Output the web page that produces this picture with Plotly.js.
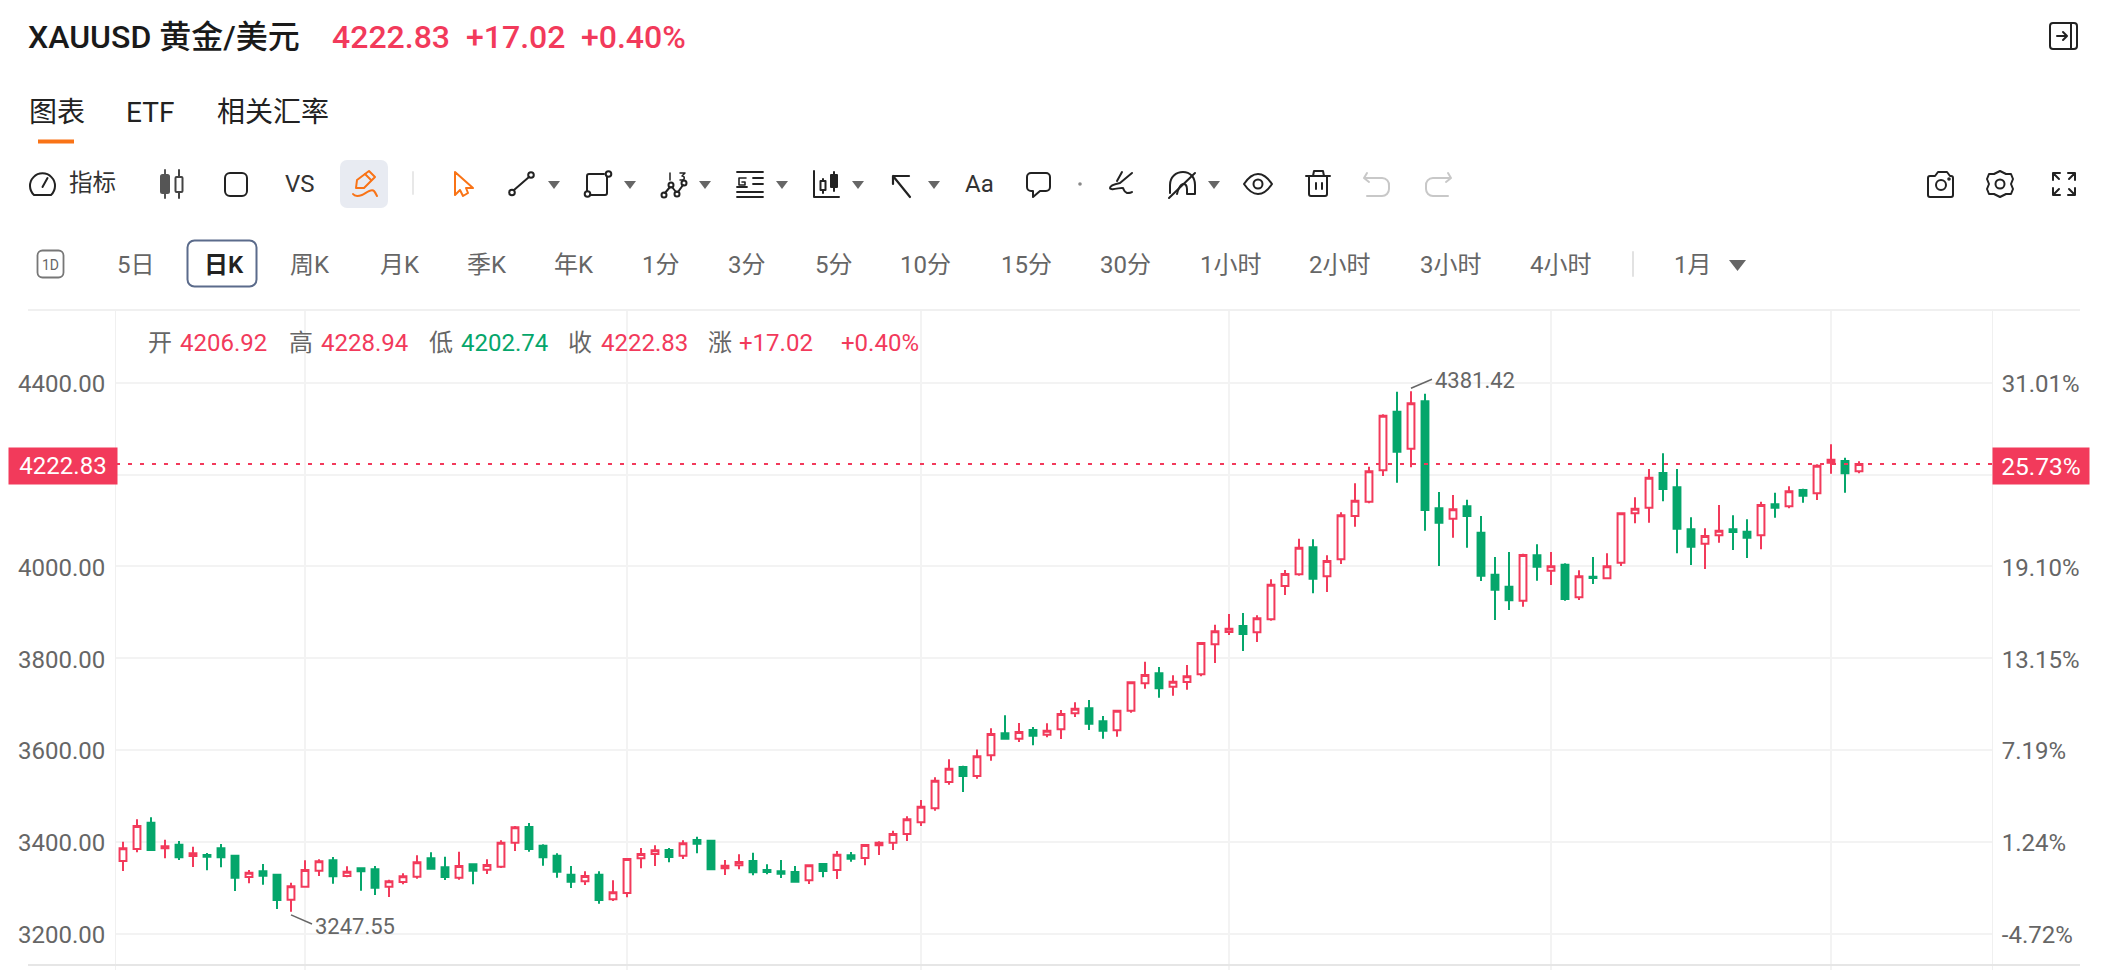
<!DOCTYPE html>
<html>
<head>
<meta charset="utf-8">
<script src="https://cdn.plot.ly/plotly-3.0.1.min.js"></script>
<style>
html,body{margin:0;padding:0;background:#fff;width:2108px;height:970px;overflow:hidden}
#chart{position:absolute;left:0;top:0;width:2108px;height:970px}
#ui{position:absolute;left:0;top:0;width:2108px;height:300px;pointer-events:none}
#ui svg{position:absolute;left:0;top:0}
.t{position:absolute;white-space:nowrap;line-height:1;transform:translateY(-50%);font-family:Roboto,"Noto Sans CJK SC",sans-serif}
</style>
</head>
<body>
<div id="chart"></div>
<div id="ui"></div>
<script>
// ---------- data (prices) ----------
const open = [3358.3,3384.5,3441.8,3385.9,3393.9,3369.2,3371.4,3385.9,3369.9,3323.5,3335.8,3328.6,3274.1,3302.4,3337.3,3359.8,3325.7,3342.4,3340.2,3302.4,3312.6,3324.2,3364.1,3344.5,3322.0,3351.1,3339.5,3346.0,3398.3,3432.4,3391.7,3369.9,3328.6,3314.0,3328.6,3274.8,3288.6,3364.1,3373.6,3382.3,3369.9,3404.1,3402.6,3342.4,3348.9,3358.3,3338.7,3335.8,3334.4,3316.2,3351.8,3338.7,3370.7,3364.9,3392.4,3398.3,3417.1,3442.5,3473.0,3530.3,3563.0,3543.4,3588.4,3636.3,3624.7,3643.5,3633.4,3645.0,3679.8,3690.7,3662.4,3642.8,3685.6,3745.2,3767.0,3737.9,3748.1,3764.8,3830.1,3857.0,3870.1,3856.3,3884.6,3957.2,3982.6,4041.4,3978.2,4015.2,4109.6,4140.8,4209.0,4336.8,4256.2,4359.3,4126.3,4103.8,4130.6,4073.3,3981.8,3955.7,3925.2,4023.9,3990.5,4003.6,3932.5,3977.5,3973.8,4007.9,4115.4,4127.8,4203.3,4172.0,4080.6,4049.4,4067.5,4080.6,4075.5,4067.5,4135.0,4130.7,4166.2,4159.0,4225.8,4229.4,4206.92];
const high = [3400.4,3449.1,3453.4,3404.8,3401.9,3389.5,3375.7,3395.4,3371.0,3338.7,3351.8,3329.5,3311.1,3359.8,3362.0,3367.0,3346.7,3343.8,3347.4,3317.7,3331.5,3370.7,3377.2,3367.8,3378.6,3353.2,3362.0,3403.3,3434.5,3441.1,3394.6,3375.0,3347.4,3335.8,3335.8,3316.2,3364.1,3386.6,3392.4,3386.6,3403.3,3411.3,3404.1,3360.5,3372.8,3376.5,3351.1,3360.5,3347.4,3351.1,3353.2,3380.1,3377.9,3394.6,3401.2,3424.4,3455.6,3491.2,3540.5,3579.7,3565.9,3601.4,3647.2,3675.5,3658.8,3650.1,3658.1,3687.1,3703.8,3708.9,3674.0,3687.1,3749.5,3792.4,3780.7,3762.6,3785.1,3834.5,3872.9,3896.2,3898.4,3893.3,3971.7,3992.0,4060.2,4058.8,4023.9,4117.6,4180.7,4217.0,4331.0,4380.3,4381.42,4376.0,4161.8,4155.3,4145.2,4109.6,4020.3,4031.2,4027.5,4047.9,4031.2,4006.5,3991.3,4020.3,4028.3,4116.8,4150.2,4212.0,4246.1,4212.0,4106.7,4082.8,4133.6,4111.1,4102.4,4140.8,4160.4,4174.2,4169.1,4222.1,4265.7,4236.6,4228.94];
const low = [3336.5,3377.2,3380.8,3364.1,3360.5,3345.3,3338.0,3344.5,3293.0,3309.7,3306.8,3253.8,3247.55,3301.0,3325.7,3309.0,3322.8,3293.7,3284.3,3279.9,3307.5,3319.9,3339.5,3317.0,3317.7,3307.5,3330.0,3343.1,3380.1,3378.7,3348.2,3322.0,3299.5,3306.1,3265.4,3271.2,3279.2,3342.4,3347.4,3355.4,3362.7,3375.0,3338.7,3327.8,3340.2,3327.1,3329.3,3321.3,3312.6,3308.2,3322.8,3319.1,3356.9,3348.9,3371.4,3382.3,3401.9,3434.5,3467.9,3524.5,3508.5,3537.6,3576.8,3624.7,3617.4,3610.2,3627.6,3623.9,3671.9,3643.5,3624.7,3629.0,3681.3,3733.6,3714.0,3718.3,3731.4,3760.4,3789.4,3850.5,3815.6,3835.2,3881.7,3937.6,3979.7,3941.2,3944.1,4005.1,4086.4,4137.2,4196.7,4182.2,4215.6,4077.6,4000.7,4062.4,4040.6,3968.0,3883.1,3904.9,3912.1,3968.8,3959.3,3925.2,3926.6,3961.5,3972.4,4000.7,4093.6,4095.1,4141.6,4028.3,4002.9,3994.2,4051.5,4035.6,4018.2,4037.0,4106.0,4126.3,4138.7,4144.5,4201.8,4160.4,4202.74];
const close = [3385.9,3434.5,3382.3,3390.3,3366.3,3375.0,3367.8,3366.3,3322.0,3332.9,3326.4,3273.4,3303.2,3338.7,3357.6,3324.9,3335.1,3335.8,3300.3,3314.0,3324.9,3355.4,3341.6,3323.5,3347.4,3337.3,3349.6,3398.3,3431.6,3384.5,3366.3,3335.1,3313.3,3325.7,3273.4,3290.1,3362.7,3373.6,3381.6,3367.0,3396.8,3396.1,3340.2,3348.2,3356.1,3333.6,3334.4,3330.7,3313.3,3348.9,3336.5,3372.1,3363.4,3393.2,3398.3,3417.1,3449.1,3476.6,3533.2,3559.3,3543.4,3586.2,3634.8,3624.7,3639.2,3631.2,3642.1,3678.4,3690.0,3657.3,3642.1,3685.6,3747.4,3763.3,3734.3,3748.8,3760.4,3833.0,3858.4,3864.2,3852.6,3886.7,3960.1,3983.3,4040.6,3973.1,4011.6,4111.1,4143.0,4206.9,4328.1,4249.7,4354.9,4122.6,4095.1,4124.1,4109.6,3979.6,3949.2,3925.9,4024.6,3999.2,4000.0,3928.8,3978.2,3974.6,4000.0,4115.4,4125.5,4193.1,4168.4,4082.0,4042.8,4066.1,4077.7,4074.8,4062.4,4133.6,4127.8,4163.3,4153.9,4219.2,4232.3,4202.5,4222.83];
const lastPrice = 4222.83;
const highPoint = {index:92, value:"4381.42"};
const lowPoint = {index:12, value:"3247.55"};
const priceTicks = [3200,3400,3600,3800,4000,4200,4400];
const priceLabels = ["3200.00","3400.00","3600.00","3800.00","4000.00","4200.00","4400.00"];
const pctLabels = ["-4.72%","1.24%","7.19%","13.15%","19.10%","25.06%","31.01%"];
const dateTicks = [13,36,57,79,102,122];
const infoRow = [["开","#666"],["4206.92","#f23a5b"],["高","#666"],["4228.94","#f23a5b"],["低","#666"],["4202.74","#05a66b"],["收","#666"],["4222.83","#f23a5b"],["涨","#666"],["+17.02","#f23a5b"],["+0.40%","#f23a5b"]];
const infoX = [148,180,289,321,429,461,568,601,708,739,841];
const timeframes = [["5日",117],["周K",290],["月K",380],["季K",467],["年K",554],["1分",642],["3分",728],["5分",815],["10分",900],["15分",1001],["30分",1100],["1小时",1200],["2小时",1309],["3小时",1420],["4小时",1530],["1月",1674]];

// ---------- plot geometry ----------
const W=2108,H=970,L=116,R=116,T=309,B=0;
const pw=W-L-R, ph=H-T-B;
const RED="#f23a5b", GREEN="#05a66b", GREY="#666666";
const FONT='Roboto,"Noto Sans CJK SC",sans-serif';
const xRange=[-0.5,133.5], yRange=[3120.95,4560.4];
const px=x=>(x-L)/pw, py=y=>(H-B-y)/ph;
const idx=open.map((_,i)=>i);

const traces=[{
  type:"candlestick",x:idx,open:open,high:high,low:low,close:close,
  increasing:{line:{color:RED,width:2},fillcolor:"#ffffff"},
  decreasing:{line:{color:GREEN,width:2},fillcolor:GREEN},
  whiskerwidth:0,hoverinfo:"none",showlegend:false
},{
  type:"scatter",mode:"lines",x:xRange,y:[lastPrice,lastPrice],yaxis:"y2",
  line:{color:RED,width:2,dash:"4px,8px"},hoverinfo:"none",showlegend:false
}];

const annotations=[
  {xref:"paper",yref:"y",x:0,y:lastPrice,xanchor:"right",yanchor:"middle",xshift:2,yshift:-2,text:"4222.83",showarrow:false,bgcolor:RED,width:100,height:28,borderpad:4,align:"center",font:{family:FONT,size:24,color:"#fff"}},
  {xref:"paper",yref:"y",x:1,y:lastPrice,xanchor:"left",yanchor:"middle",yshift:-2,text:"25.73%",showarrow:false,bgcolor:RED,width:88,height:28,borderpad:4,align:"center",font:{family:FONT,size:24.5,color:"#fff"}},
  {xref:"x",yref:"y",x:highPoint.index+1.6,y:4405,xanchor:"left",yanchor:"middle",text:highPoint.value,showarrow:false,font:{family:FONT,size:22,color:GREY}},
  {xref:"x",yref:"y",x:lowPoint.index+1.55,y:3216,xanchor:"left",yanchor:"middle",text:lowPoint.value,showarrow:false,font:{family:FONT,size:22,color:GREY}}
];
infoRow.forEach((r,i)=>annotations.push({xref:"paper",yref:"paper",x:px(infoX[i]),y:py(343),xanchor:"left",yanchor:"middle",text:r[0],showarrow:false,font:{family:FONT,size:24,color:r[1]},xshift:-2}));

const shapes=[
  {type:"line",xref:"paper",yref:"paper",x0:px(28),x1:px(2080),y0:py(310),y1:py(310),line:{color:"#f0f0f0",width:2}},
  {type:"line",xref:"paper",yref:"paper",x0:px(28),x1:px(2080),y0:py(965),y1:py(965),line:{color:"#e6e6e6",width:2}},
  {type:"line",xref:"x",yref:"y",x0:highPoint.index,x1:highPoint.index+1.5,y0:4387.7,y1:4407.3,line:{color:GREY,width:1.5}},
  {type:"line",xref:"x",yref:"y",x0:lowPoint.index,x1:lowPoint.index+1.5,y0:3240.9,y1:3221,line:{color:GREY,width:1.5}}
];

const yCommon={range:yRange,tickmode:"array",tickvals:priceTicks,showline:true,linecolor:"#f0f0f0",linewidth:1,zeroline:false,ticks:"outside",tickcolor:"rgba(0,0,0,0)",tickfont:{family:FONT,size:24,color:GREY},ticklabelshift:1,fixedrange:true};
const layout={
  width:W,height:H,margin:{l:L,r:R,t:T,b:B,pad:0},paper_bgcolor:"#fff",plot_bgcolor:"#fff",dragmode:false,hovermode:false,showlegend:false,
  xaxis:{type:"linear",range:xRange,tickmode:"array",tickvals:dateTicks,showticklabels:false,ticks:"",showgrid:true,gridcolor:"#f3f3f3",gridwidth:2,zeroline:false,showline:false,rangeslider:{visible:false},fixedrange:true},
  yaxis:Object.assign({},yCommon,{ticktext:priceLabels,ticklen:5,showgrid:true,gridcolor:"#f3f3f3",gridwidth:2,side:"left"}),
  yaxis2:Object.assign({},yCommon,{ticktext:pctLabels,ticklen:4,overlaying:"y",side:"right",showgrid:false}),
  annotations:annotations,shapes:shapes
};
Plotly.newPlot("chart",traces,layout,{displayModeBar:false,staticPlot:true,responsive:false});

// ---------- page chrome around the chart ----------
const ui=document.getElementById("ui");
function label(text,x,y,size,color,weight){
  const d=document.createElement("div");d.className="t";d.textContent=text;
  d.style.cssText=`left:${x}px;top:${y}px;font-size:${size}px;color:${color};font-weight:${weight||400}`;
  ui.appendChild(d);
}
label("XAUUSD 黄金/美元",28,37,32,"#1a1a1a",500);
label("4222.83",332,37,32,RED,500);
label("+17.02",466,37,32,RED,500);
label("+0.40%",581,37,32,RED,500);
label("图表",29,113,28,"#222");
label("ETF",126,113,28,"#222");
label("相关汇率",217,113,28,"#222");
label("指标",69,184,23.500,"#333");
label("VS",285,184,24,"#333");
label("Aa",965,184,24,"#333");
label("日K",204,265,24,"#222",600);
timeframes.forEach(t=>label(t[0],t[1],265,24,"#666"));

const carets=[554,630,705,782,858,934,1214].map(x=>`<path d="M${x-6} 181 h12 l-6 8 z" fill="#666" stroke="none"/>`).join("")+`<path d="M1729 260 h17 l-8.5 11 z" fill="#666" stroke="none"/>`;
const icons=`
<svg width="2108" height="300" fill="none" stroke="#222" stroke-width="2" stroke-linecap="round" stroke-linejoin="round">
<rect x="38" y="139.500" width="36" height="4" fill="#f97316" stroke="none"/>
<!-- panel -->
<rect x="2050" y="23" width="27" height="26" rx="3"/><path d="M2071 23v26M2057 36h9M2063 32l4 4-4 4"/>
<!-- gauge -->
<path d="M34 195a12.500 12.500 0 1 1 17 0h-17z"/><path d="M42.500 187l5-9"/>
<!-- candles -->
<path d="M165 170v28" stroke="#555"/><rect x="161" y="175" width="8" height="18" rx="1.500" fill="#555" stroke="#555"/>
<path d="M179 170v28" stroke="#444"/><rect x="175.500" y="177" width="7" height="15" rx="1" fill="#fff" stroke="#444"/>
<rect x="225" y="173" width="22" height="23" rx="5"/>
<!-- pencil box -->
<rect x="340" y="160" width="48" height="48" rx="7" fill="#e8ebf2" stroke="none"/>
<g stroke="#f97316"><path d="M356 188l1-8 12-9 6 6-11 11z"/><path d="M365 174l6 6"/><path d="M353 194c2 3 6 2 9 1s9-7 12-4c1 1 2 3 3 5"/></g>
<path d="M413 172v22" stroke="#e8e8e8"/>
<!-- cursor -->
<path d="M455 172l18 16h-7l2 5-5 3-3-6-5 5z" stroke="#f97316"/>
<!-- line -->
<circle cx="512" cy="192.500" r="2.800"/><circle cx="531" cy="175" r="2.800"/><path d="M514 190l15-13"/>
<!-- rect -->
<path d="M607 177v16a2 2 0 0 1-2 2h-15M587 191v-15a2 2 0 0 1 2-2h15"/><circle cx="608.500" cy="174" r="2.800"/><circle cx="587.500" cy="194" r="2.800"/>
<!-- zigzag -->
<circle cx="664" cy="195" r="2.500"/><circle cx="671" cy="185" r="2.500"/><circle cx="677" cy="194" r="2.500"/><circle cx="684" cy="183" r="2.500"/><path d="M665 193l5-6M672 187l4 5M678 192l5-7"/><path d="M670 173v7M680 173h5l-3 3c3 0 3 4 0 4h-2" stroke-width="1.500"/>
<!-- list -->
<path d="M737 172h26M737 197h26M737 192h26M753 178h10M753 184h10M737 187h10" stroke-width="1.800"/><path d="M746 178h-7v7h6v-3h-3" stroke-width="1.600"/>
<!-- candles tool -->
<path d="M814 171v26h25"/><path d="M823 179v14M834 172v19"/><rect x="820.500" y="181" width="5" height="9" fill="#fff"/><rect x="831" y="175" width="6" height="12" fill="#222"/>
<!-- arrow -->
<path d="M893 176h16M893 176v8M893 176l17 21" stroke-width="2.200"/>
<!-- comment -->
<path d="M1031 173h15a4 4 0 0 1 4 4v10a4 4 0 0 1-4 4h-6l-7 6v-6h-2a4 4 0 0 1-4-4v-10a4 4 0 0 1 4-4z"/>
<circle cx="1080" cy="184" r="1.800" fill="#888" stroke="none"/>
<!-- squiggle -->
<path d="M1117 181l5-9M1120 183l12-10M1120 183c-5 1-10 3-10 5 0 3 12-1 13 0 1 2 1 4 4 5 2 0 4 0 5-1"/>
<!-- arc -->
<path d="M1170 193v-8c0-8 6-13 13-13s12 5 12 13v9h-8v-5c0-7-7-8-10 5"/><path d="M1169 198l26-25"/>
<!-- eye -->
<path d="M1244 184c4-6 9-10 14-10s10 4 14 10c-4 6-9 10-14 10s-10-4-14-10z"/><circle cx="1258" cy="184" r="4.500"/>
<!-- trash -->
<path d="M1306 176h24M1313 176l1-5h9l1 5M1309 176v18a2 2 0 0 0 2 2h14a2 2 0 0 0 2-2v-18M1316 183v6M1322 183v6"/>
<g stroke="#c8c8c8"><path d="M1367 173l-3 5 5 4M1365 178h17a7 7 0 0 1 7 8v3a7 7 0 0 1-7 7h-15"/><path d="M1448 173l3 5-5 4M1450 178h-17a7 7 0 0 0-7 8v3a7 7 0 0 0 7 7h15"/></g>
<!-- camera -->
<path d="M1932 176h3l3-4h9l3 4h1a2 2 0 0 1 2 2v17a2 2 0 0 1-2 2h-21a2 2 0 0 1-2-2v-17a2 2 0 0 1 2-2z"/><circle cx="1941" cy="185" r="5"/><circle cx="1949" cy="179" r="0.800"/>
<!-- gear -->
<path d="M2000 171l6 3h5l2 5-2 5 2 5-2 5h-5l-6 3-6-3h-5l-2-5 2-5-2-5 2-5h5z"/><circle cx="2000" cy="184" r="4.500"/>
<!-- expand -->
<path d="M2053 180v-7h7M2053 173l6 6M2075 180v-7h-7M2075 173l-6 6M2053 188v7h7M2053 195l6-6M2075 188v7h-7M2075 195l-6-6"/>
<!-- 1D -->
<rect x="37.500" y="250.500" width="26" height="27" rx="5" stroke="#777" stroke-width="1.800"/>
<text x="50.500" y="270" font-family="Roboto" font-size="14" fill="#666" stroke="none" text-anchor="middle">1D</text>
<!-- selected timeframe -->
<rect x="187.500" y="240.500" width="69" height="46" rx="7" stroke="#5b6b8b" stroke-width="2"/>
<path d="M1633 252v24" stroke="#e2e2e2"/>
${carets}
</svg>`;
ui.insertAdjacentHTML("afterbegin",icons);
</script>
</body>
</html>
